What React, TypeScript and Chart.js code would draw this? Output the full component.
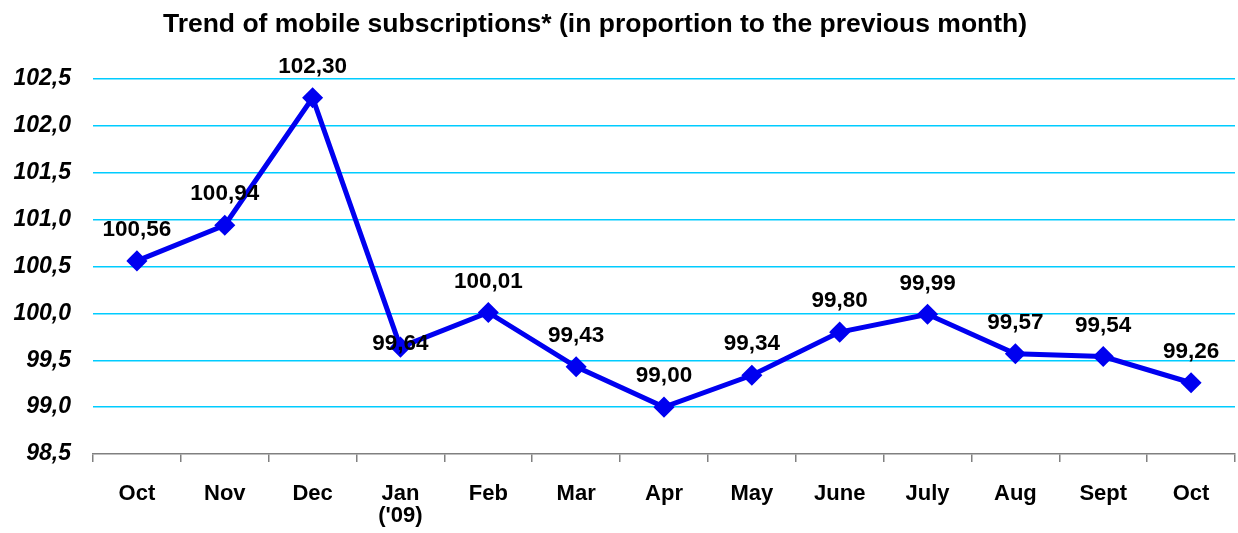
import React, { useEffect, useRef } from "react";
import { Chart, registerables } from "chart.js";

Chart.register(...registerables);

const TITLE = "Trend of mobile subscriptions* (in proportion to the previous month)";
const CATEGORIES: (string | string[])[] = [
  "Oct", "Nov", "Dec", ["Jan", "('09)"], "Feb", "Mar", "Apr", "May", "June", "July", "Aug", "Sept", "Oct",
];
const VALUES = [100.56, 100.94, 102.3, 99.64, 100.01, 99.43, 99.0, 99.34, 99.8, 99.99, 99.57, 99.54, 99.26];
const Y_MIN = 98.5;
const Y_MAX = 102.5;
const Y_STEP = 0.5;

const FONT = "'Liberation Sans', Arial, sans-serif";

export default function App() {
  const ref = useRef<HTMLCanvasElement | null>(null);

  useEffect(() => {
    if (!ref.current) return;
    const labelOffsets = VALUES.map((_, i) => (i === 3 ? 3 : 31));

    const titlePlugin = {
      id: "customTitle",
      afterDraw(chart: any) {
        const ctx = chart.ctx;
        ctx.save();
        ctx.font = `bold 26.5px ${FONT}`;
        ctx.fillStyle = "#000";
        ctx.textAlign = "center";
        ctx.textBaseline = "middle";
        ctx.fillText(TITLE, 595, 25);
        ctx.restore();
      },
    };

    const labelPlugin = {
      id: "valueLabels",
      afterDatasetsDraw(chart: any) {
        const ctx = chart.ctx;
        const meta = chart.getDatasetMeta(0);
        ctx.save();
        ctx.font = `bold 22.5px ${FONT}`;
        ctx.fillStyle = "#000";
        ctx.textAlign = "center";
        ctx.textBaseline = "middle";
        meta.data.forEach((pt: any, i: number) => {
          const txt = VALUES[i].toFixed(2).replace(".", ",");
          ctx.fillText(txt, pt.x, pt.y - labelOffsets[i]);
        });
        ctx.restore();
      },
    };

    const chart = new Chart(ref.current, {
      type: "line",
      data: {
        labels: CATEGORIES,
        datasets: [
          {
            data: VALUES,
            borderColor: "#0000F0",
            backgroundColor: "#0000F0",
            borderWidth: 5,
            pointStyle: "rectRot",
            pointRadius: 7,
            pointHoverRadius: 7,
            tension: 0,
            clip: false,
          },
        ],
      },
      options: {
        animation: false,
        responsive: false,
        maintainAspectRatio: false,
        events: [],
        layout: { autoPadding: false, padding: { left: 0, right: 3, top: 79, bottom: 0 } },
        plugins: {
          legend: { display: false },
          title: { display: false },
          tooltip: { enabled: false },
        },
        scales: {
          x: {
            offset: true,
            grid: {
              offset: true,
              drawOnChartArea: false,
              drawTicks: true,
              tickLength: 8,
              color: "#808080",
              lineWidth: 1.5,
            },
            border: { display: true, color: "#808080", width: 1.5 },
            ticks: {
              color: "#000",
              padding: 21,
              maxRotation: 0,
              autoSkip: false,
              font: { family: FONT, size: 22, weight: "bold", lineHeight: 1.0 },
            },
            afterFit(scale: any) {
              scale.height = 79;
              scale.paddingLeft = 0;
              scale.paddingRight = 0;
            },
          },
          y: {
            min: Y_MIN,
            max: Y_MAX,
            ticks: {
              stepSize: Y_STEP,
              color: "#000",
              padding: 22,
              font: { family: FONT, size: 23, weight: "bold", style: "italic" },
              callback: (v: any) => Number(v).toFixed(1).replace(".", ","),
            },
            grid: {
              drawTicks: false,
              lineWidth: 1.5,
              color: (c: any) => (c.tick && c.tick.value === Y_MIN ? "rgba(0,0,0,0)" : "#00CCFF"),
            },
            border: { display: false },
            afterFit(scale: any) {
              scale.width = 93;
            },
          },
        },
      },
      plugins: [titlePlugin, labelPlugin],
    });
    return () => chart.destroy();
  }, []);

  return (
    <div style={{ position: "fixed", left: 0, top: 0, width: 1238, height: 533, background: "#fff" }}>
      <canvas ref={ref} width={1238} height={533} style={{ display: "block" }} />
    </div>
  );
}
